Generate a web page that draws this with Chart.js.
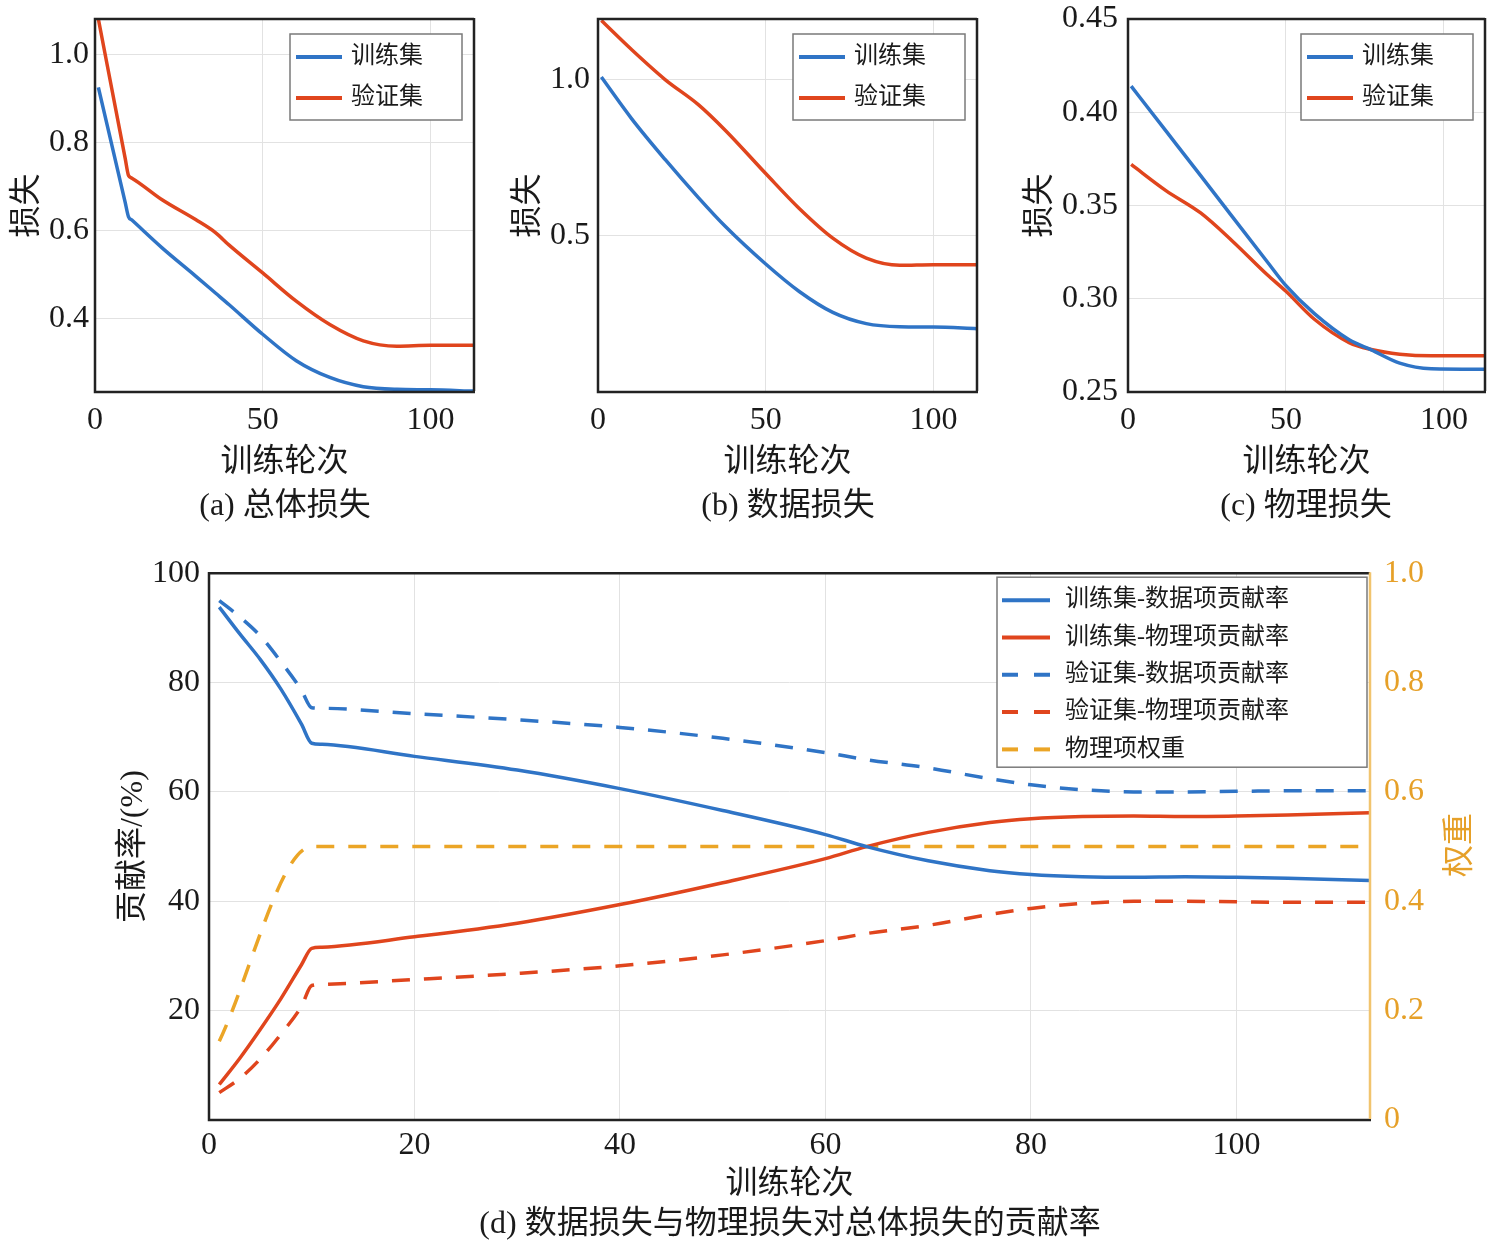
<!DOCTYPE html>
<html>
<head>
<meta charset="utf-8">
<script src="https://cdn.jsdelivr.net/npm/chart.js@4.4.1/dist/chart.umd.min.js"></script>
<style>
  body { margin: 0; background: #fff; }
  #page { position: relative; width: 1502px; height: 1246px; }
  canvas { position: absolute; }
  .cap { position: absolute; transform: translate(-50%, -50%); white-space: nowrap;
         font-family: "Liberation Serif", "Noto Sans CJK SC", serif; font-size: 32px; color: #1a1a1a; }
</style>
</head>
<body>
<div id="page">
  <canvas id="chartA" width="500" height="480" style="left:0;top:0"></canvas>
  <canvas id="chartB" width="500" height="480" style="left:500px;top:0"></canvas>
  <canvas id="chartC" width="502" height="480" style="left:1000px;top:0"></canvas>
  <canvas id="chartD" width="1502" height="660" style="left:0;top:540px"></canvas>
  <div class="cap" style="left:285px;top:501px">(a) 总体损失</div>
  <div class="cap" style="left:788px;top:501px">(b) 数据损失</div>
  <div class="cap" style="left:1306px;top:501px">(c) 物理损失</div>
  <div class="cap" style="left:790px;top:1219px">(d) 数据损失与物理损失对总体损失的贡献率</div>
  <div class="cap" style="left:1455px;top:845px;color:#E6A028;transform:translate(-50%,-50%) rotate(-90deg)">权重</div>
</div>
<script>
// ---- datos ----
const xTicksLoss = [0, 50, 100];

// (a) 总体损失
const epochsA = [1, 9, 10, 11, 20, 30, 36, 40, 50, 60, 70, 80, 90, 100, 113];
const trainA = [0.925, 0.664, 0.631, 0.624, 0.561, 0.497, 0.458, 0.432, 0.365, 0.305, 0.267, 0.246, 0.240, 0.239, 0.236];
const valA = [1.08, 0.764, 0.725, 0.719, 0.670, 0.625, 0.595, 0.567, 0.504, 0.440, 0.387, 0.350, 0.338, 0.340, 0.340];
const yTicksA = [0.4, 0.6, 0.8, 1.0];

// (b) 数据损失
const epochsB = [1, 10, 20, 30, 38, 50, 60, 70, 80, 90, 100, 113];
const trainB = [1.009, 0.876, 0.745, 0.622, 0.530, 0.410, 0.322, 0.255, 0.219, 0.209, 0.208, 0.203];
const valB = [1.19, 1.097, 1.001, 0.920, 0.838, 0.700, 0.588, 0.493, 0.429, 0.406, 0.408, 0.408];
const yTicksB = [0.5, 1.0];

// (c) 物理损失
const epochsC = [1, 12, 23, 33, 44, 50, 59, 70, 77, 86, 96, 113];
const trainC = [0.414, 0.390, 0.366, 0.344, 0.320, 0.307, 0.292, 0.278, 0.2726, 0.2655, 0.2625, 0.2622];
const valC = [0.372, 0.358, 0.346, 0.331, 0.313, 0.304, 0.289, 0.2765, 0.2728, 0.2703, 0.2694, 0.2694];
const yTicksC = [0.25, 0.30, 0.35, 0.40, 0.45];

// (d) 贡献率
const epochsD = [1, 3, 5, 7, 9, 10, 11, 20, 30, 40, 50, 60, 64, 70, 76, 80, 85, 90, 95, 100, 105, 113];
const trainDataD = [93.8, 88.9, 84.2, 78.8, 72.4, 68.9, 68.7, 66.5, 64.0, 60.6, 56.6, 52.2, 50.0, 47.4, 45.6, 44.9, 44.5, 44.4, 44.5, 44.4, 44.2, 43.8];
const trainPhysD = [6.5, 11.3, 16.6, 22.2, 28.4, 31.4, 31.6, 33.5, 36.0, 39.4, 43.4, 47.8, 50.0, 52.6, 54.4, 55.1, 55.5, 55.6, 55.5, 55.6, 55.8, 56.2];
const valDataD = [95.0, 92.0, 88.5, 83.8, 78.6, 75.4, 75.3, 74.3, 73.2, 71.8, 69.8, 67.2, 65.9, 64.4, 62.4, 61.3, 60.4, 60.0, 60.0, 60.1, 60.2, 60.2];
const valPhysD = [5.0, 7.6, 11.2, 15.7, 20.8, 24.6, 24.8, 25.7, 26.8, 28.2, 30.2, 32.8, 34.1, 35.6, 37.6, 38.7, 39.6, 40.0, 40.0, 39.9, 39.8, 39.8];
const weightEpochs = [1, 10, 113];
const weightD = [0.144, 0.5, 0.5];
const xTicksD = [0, 20, 40, 60, 80, 100];
const yTicksD = [20, 40, 60, 80, 100];
const y2TicksD = [0, 0.2, 0.4, 0.6, 0.8, 1.0];

const BLUE = '#2F74C6', RED = '#E0451D', ORANGE = '#EBA526';
const FONT = '"Liberation Serif", "Noto Sans CJK SC", serif';
const GRID = '#e2e2e2';

function pts(xs, ys) {
  return xs.map((x, i) => ({ x: x, y: ys[i] }));
}

function fixedTicks(list) {
  return function (scale) { scale.ticks = list.map(v => ({ value: v })); };
}

// marco negro tipo MATLAB alrededor del área
const framePlugin = {
  id: 'frame',
  afterDraw(chart, args, o) {
    const ctx = chart.ctx, a = chart.chartArea;
    ctx.save();
    ctx.lineWidth = 2.5;
    ctx.strokeStyle = '#222';
    ctx.beginPath();
    ctx.moveTo(a.right, a.top); ctx.lineTo(a.left, a.top);
    ctx.lineTo(a.left, a.bottom); ctx.lineTo(a.right + 1, a.bottom);
    ctx.stroke();
    ctx.strokeStyle = o.rightColor || '#222';
    ctx.beginPath();
    ctx.moveTo(a.right, a.top - 1); ctx.lineTo(a.right, a.bottom - 1);
    ctx.stroke();
    ctx.restore();
  }
};

// leyenda con caja dentro del área
const boxLegend = {
  id: 'boxLegend',
  afterDraw(chart, args, o) {
    const ctx = chart.ctx, a = chart.chartArea;
    const x0 = a.right - o.right - o.width, y0 = a.top + o.top;
    ctx.save();
    ctx.fillStyle = '#fff';
    ctx.fillRect(x0, y0, o.width, o.height);
    ctx.lineWidth = 1.5;
    ctx.strokeStyle = '#7a7a7a';
    ctx.strokeRect(x0, y0, o.width, o.height);
    ctx.font = '24px ' + FONT;
    ctx.textBaseline = 'middle';
    chart.data.datasets.forEach((ds, i) => {
      const y = y0 + o.row0 + i * o.rowGap;
      ctx.beginPath();
      ctx.setLineDash(ds.borderDash ? [16, 16] : []);
      ctx.lineWidth = 4;
      ctx.strokeStyle = ds.borderColor;
      ctx.moveTo(x0 + o.line0, y);
      ctx.lineTo(x0 + o.line1, y);
      ctx.stroke();
      ctx.setLineDash([]);
      ctx.fillStyle = '#1a1a1a';
      ctx.fillText(ds.label, x0 + o.text, y);
    });
    ctx.restore();
  }
};

function line(label, xs, ys, color, dashed, axis) {
  return {
    label: label,
    data: pts(xs, ys),
    borderColor: color,
    borderWidth: 3.5,
    borderDash: dashed ? [18, 14] : undefined,
    pointRadius: 0,
    cubicInterpolationMode: 'monotone',
    yAxisID: axis || 'y'
  };
}

function lossChart(id, epochs, train, val, c) {
  new Chart(document.getElementById(id), {
    type: 'line',
    data: {
      datasets: [
        line('训练集', epochs, train, BLUE),
        line('验证集', epochs, val, RED)
      ]
    },
    options: {
      responsive: false,
      animation: false,
      layout: { padding: { top: 19, right: c.rightPad, left: 0, bottom: 0 } },
      plugins: {
        legend: { display: false },
        tooltip: { enabled: false },
        boxLegend: { width: 172, height: 86, right: 12, top: 15, row0: 23, rowGap: 41, line0: 6, line1: 52, text: 61 },
        frame: {}
      },
      scales: {
        x: {
          type: 'linear', min: 0, max: 113,
          afterBuildTicks: fixedTicks(xTicksLoss),
          afterFit: s => { s.height = 88; },
          grid: { color: GRID, drawTicks: false },
          border: { display: false },
          ticks: { padding: 9, maxRotation: 0, autoSkip: false, color: '#1a1a1a', font: { family: FONT, size: 32 } },
          title: { display: true, text: '训练轮次', color: '#1a1a1a', padding: { top: 0, bottom: -2 }, font: { family: FONT, size: 32 } }
        },
        y: {
          min: c.yMin, max: c.yMax,
          afterBuildTicks: fixedTicks(c.yTicks),
          afterFit: s => { s.width = c.yWidth; },
          grid: { color: GRID, drawTicks: false },
          border: { display: false },
          ticks: {
            padding: c.tickPad, color: '#1a1a1a', font: { family: FONT, size: 32, lineHeight: 0.4 },
            callback: v => v.toFixed(c.digits)
          },
          title: { display: true, text: '损失', color: '#1a1a1a', padding: { top: c.titlePad, bottom: 0 }, font: { family: FONT, size: 32 } }
        }
      }
    },
    plugins: [boxLegend, framePlugin]
  });
}

lossChart('chartA', epochsA, trainA, valA, { yMin: 0.234, yMax: 1.08, yTicks: yTicksA, digits: 1, yWidth: 95, rightPad: 26, tickPad: 6, titlePad: 8 });
lossChart('chartB', epochsB, trainB, valB, { yMin: 0, yMax: 1.195, yTicks: yTicksB, digits: 1, yWidth: 98, rightPad: 23, tickPad: 8, titlePad: 9 });
lossChart('chartC', epochsC, trainC, valC, { yMin: 0.25, yMax: 0.45, yTicks: yTicksC, digits: 2, yWidth: 128, rightPad: 17, tickPad: 10, titlePad: 21 });

// (d) gráfico de contribución con doble eje
new Chart(document.getElementById('chartD'), {
  type: 'line',
  data: {
    datasets: [
      line('训练集-数据项贡献率', epochsD, trainDataD, BLUE, false),
      line('训练集-物理项贡献率', epochsD, trainPhysD, RED, false),
      line('验证集-数据项贡献率', epochsD, valDataD, BLUE, true),
      line('验证集-物理项贡献率', epochsD, valPhysD, RED, true),
      line('物理项权重', weightEpochs, weightD, ORANGE, true, 'y2')
    ]
  },
  options: {
    responsive: false,
    animation: false,
    layout: { padding: { top: 33, right: 0, left: 0, bottom: 0 } },
    plugins: {
      legend: { display: false },
      tooltip: { enabled: false },
      boxLegend: { width: 370, height: 190, right: 3, top: 4, row0: 23, rowGap: 37.3, line0: 5, line1: 53, text: 68 },
      frame: { rightColor: '#F1C46E' }
    },
    scales: {
      x: {
        type: 'linear', min: 0, max: 113,
        afterBuildTicks: fixedTicks(xTicksD),
        afterFit: s => { s.height = 80; },
        grid: { color: GRID, drawTicks: false },
        border: { display: false },
        ticks: { padding: 6, maxRotation: 0, autoSkip: false, color: '#1a1a1a', font: { family: FONT, size: 32 } },
        title: { display: true, text: '训练轮次', color: '#1a1a1a', padding: { top: 0, bottom: -4 }, font: { family: FONT, size: 32 } }
      },
      y: {
        position: 'left', min: 0, max: 100,
        afterBuildTicks: fixedTicks(yTicksD),
        afterFit: s => { s.width = 209; },
        grid: { color: GRID, drawTicks: false },
        border: { display: false },
        ticks: { padding: 9, color: '#1a1a1a', font: { family: FONT, size: 32 } },
        title: { display: true, text: '贡献率/(%)', color: '#1a1a1a', padding: { top: 114, bottom: 0 }, font: { family: FONT, size: 32 } }
      },
      y2: {
        position: 'right', min: 0, max: 1,
        afterBuildTicks: fixedTicks(y2TicksD),
        afterFit: s => { s.width = 132; },
        grid: { drawOnChartArea: false, drawTicks: false },
        border: { display: false },
        ticks: {
          padding: 14, color: '#E6A028', font: { family: FONT, size: 32 },
          callback: v => (v === 0 ? '0' : v.toFixed(1))
        }
      }
    }
  },
  plugins: [boxLegend, framePlugin]
});
</script>
</body>
</html>
